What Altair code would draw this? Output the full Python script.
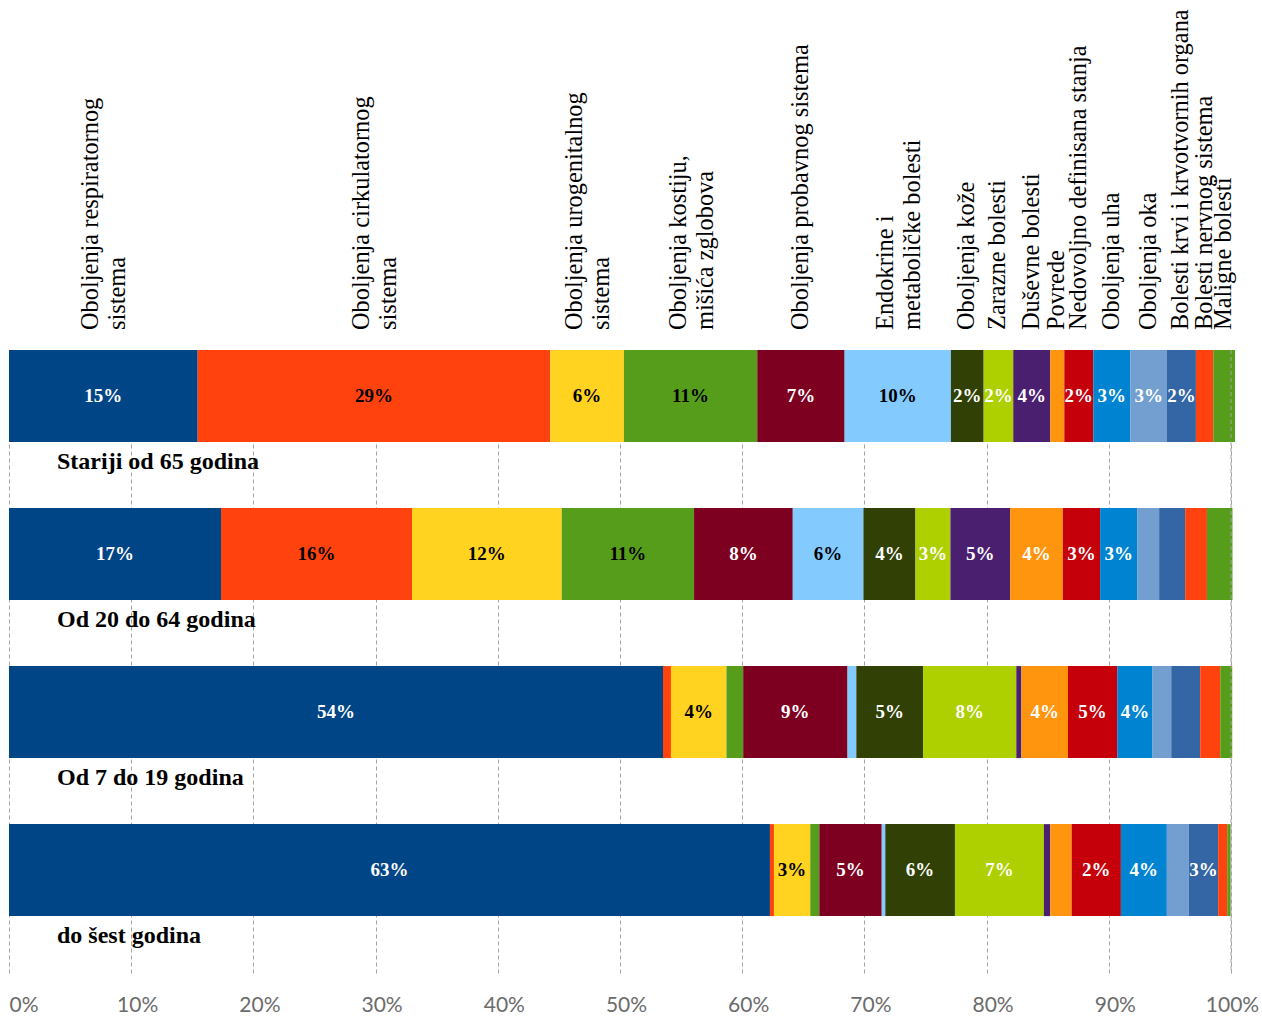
import altair as alt
import pandas as pd

ROWS = ["Stariji od 65 godina", "Od 20 do 64 godina", "Od 7 do 19 godina", "do šest godina"]

CATEGORIES = [
    "Oboljenja respiratornog\nsistema",
    "Oboljenja cirkulatornog\nsistema",
    "Oboljenja urogenitalnog\nsistema",
    "Oboljenja kostiju,\nmišića zglobova",
    "Oboljenja probavnog sistema",
    "Endokrine i\nmetaboličke bolesti",
    "Oboljenja kože",
    "Zarazne bolesti",
    "Duševne bolesti",
    "Povrede",
    "Nedovoljno definisana stanja",
    "Oboljenja uha",
    "Oboljenja oka",
    "Bolesti krvi i krvotvornih organa",
    "Bolesti nervnog sistema",
    "Maligne bolesti",
]

COLORS = [
    "#004586", "#FF420E", "#FFD320", "#579D1C", "#7E0021", "#83CAFF",
    "#314004", "#AECF00", "#4B1F6F", "#FF950E", "#C5000B", "#0084D1",
    "#729FCF", "#3465A4", "#FF420E", "#579D1C",
]

VALUES_65 = [15.44, 28.85, 6.03, 10.91, 7.15, 8.70, 2.68, 2.42, 3.03, 1.15, 2.37, 3.03, 3.00, 2.37, 1.42, 1.78]
VALUES_20_64 = [17.35, 15.63, 12.25, 10.83, 8.08, 5.78, 4.26, 2.86, 4.89, 4.31, 3.05, 3.03, 1.80, 2.13, 1.78, 2.09]
VALUES_7_19 = [53.52, 0.65, 4.54, 1.37, 8.54, 0.72, 5.46, 7.63, 0.42, 3.81, 4.03, 2.89, 1.53, 2.37, 1.64, 0.98]
VALUES_0_6 = [62.27, 0.33, 2.97, 0.74, 5.11, 0.29, 5.70, 7.28, 0.52, 1.75, 4.03, 3.76, 1.80, 2.40, 0.74, 0.28]

LABELS_65 = ["15%", "29%", "6%", "11%", "7%", "10%", "2%", "2%", "4%", "", "2%", "3%", "3%", "2%", "", ""]
LABELS_20_64 = ["17%", "16%", "12%", "11%", "8%", "6%", "4%", "3%", "5%", "4%", "3%", "3%", "", "", "", ""]
LABELS_7_19 = ["54%", "", "4%", "", "9%", "", "5%", "8%", "", "4%", "5%", "4%", "", "", "", ""]
LABELS_0_6 = ["63%", "", "3%", "", "5%", "", "6%", "7%", "", "", "2%", "4%", "", "3%", "", ""]

TICKS = [0, 10, 20, 30, 40, 50, 60, 70, 80, 90, 100]

ALL_VALUES = [VALUES_65, VALUES_20_64, VALUES_7_19, VALUES_0_6]
ALL_LABELS = [LABELS_65, LABELS_20_64, LABELS_7_19, LABELS_0_6]

records = []
for row, vals, labs in zip(ROWS, ALL_VALUES, ALL_LABELS):
    for i, (cat, v, lab) in enumerate(zip(CATEGORIES, vals, labs)):
        records.append({"row": row, "cat": cat, "idx": i, "value": v, "label": lab})
df = pd.DataFrame(records)

xscale = alt.Scale(domain=[0, 100], nice=False, zero=True)
yscale = alt.Scale(domain=ROWS, paddingInner=0.418, paddingOuter=0.18, align=0)

base = alt.Chart(df).transform_window(
    cum="sum(value)",
    groupby=["row"],
    sort=[alt.SortField("idx", order="ascending")],
    frame=[None, 0],
).transform_calculate(
    start="datum.cum - datum.value",
    mid="datum.cum - datum.value / 2",
)

xaxis = alt.Axis(
    values=TICKS,
    labelExpr="datum.value + '%'",
    title=None,
    domain=False,
    ticks=False,
    grid=True,
    gridColor="#a3a3a3",
    gridDash=[4, 3],
    gridWidth=1,
    labelFont="Lato",
    labelFontSize=21,
    labelColor="#6b6b6b",
    labelPadding=21,
    labelAlign={"condition": {"test": "datum.value == 0", "value": "left"}, "value": "center"},
    labelOffset={
        "condition": [
            {"test": "datum.value == 0", "value": 0},
            {"test": "datum.value == 100", "value": 1},
        ],
        "value": 6,
    },
)

bars = base.mark_bar().encode(
    x=alt.X("start:Q", scale=xscale, axis=xaxis),
    x2="cum:Q",
    y=alt.Y("row:N", scale=yscale, axis=None, sort=ROWS),
    color=alt.Color("cat:N", scale=alt.Scale(domain=CATEGORIES, range=COLORS), legend=None),
)

pct = base.mark_text(
    font="Liberation Serif", fontWeight="bold", fontSize=19, baseline="middle", align="center"
).encode(
    x="mid:Q",
    y=alt.Y("row:N", sort=ROWS),
    text="label:N",
    color=alt.condition("indexof([1, 2, 3, 5], datum.idx) >= 0", alt.value("#000000"), alt.value("#ffffff")),
)

top_row = base.transform_filter(alt.datum.row == ROWS[0])
cat_text = dict(
    angle=270, align="left", baseline="middle", font="Liberation Serif",
    fontSize=24.4, lineBreak="\n", lineHeight=27, color="#000000",
)
cats_single = top_row.transform_filter("indexof(datum.cat, '\\n') < 0").mark_text(**cat_text).encode(
    x="mid:Q", y=alt.value(-20), text="cat:N",
)
cats_double = top_row.transform_filter("indexof(datum.cat, '\\n') >= 0").mark_text(dy=-12, **cat_text).encode(
    x="mid:Q", y=alt.value(-20), text="cat:N",
)

rowlab = alt.Chart(pd.DataFrame({"row": ROWS})).mark_text(
    align="left", baseline="middle", font="Liberation Serif", fontWeight="bold",
    fontSize=24, dy=66, color="#000000",
).encode(
    x=alt.value(48),
    y=alt.Y("row:N", sort=ROWS),
    text="row:N",
)

rule = alt.Chart(pd.DataFrame({"x": [100]})).mark_rule(
    strokeDash=[4, 3], color="#a3a3a3", strokeWidth=1
).encode(x="x:Q")

chart = alt.layer(bars, pct, cats_single, cats_double, rowlab, rule).properties(
    width=1222,
    height=623,
    padding={"left": 9, "top": 350, "right": 31, "bottom": 43},
    autosize=alt.AutoSizeParams(type="none"),
    background="#ffffff",
).configure_view(strokeWidth=0)

chart.save("out.html", embed_options={"renderer": "svg", "actions": False})
